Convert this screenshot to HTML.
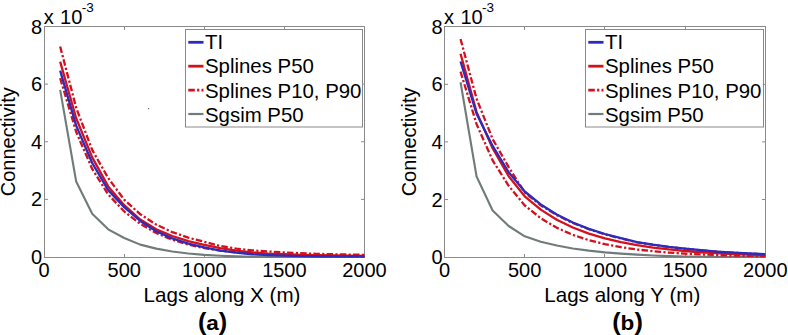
<!DOCTYPE html>
<html><head><meta charset="utf-8"><style>
html,body{margin:0;padding:0;background:#fff;width:788px;height:335px;overflow:hidden}
svg{display:block}
text{font-family:"Liberation Sans", sans-serif;fill:#000}
</style></head><body>
<svg width="788" height="335" viewBox="0 0 788 335">
<rect width="788" height="335" fill="#fff"/>
<rect x="44.5" y="26.5" width="320.00" height="231.00" fill="none" stroke="#8a8a8a" stroke-width="1"/>
<line x1="124.50" y1="257.5" x2="124.50" y2="254.0" stroke="#8a8a8a" stroke-width="1"/>
<line x1="124.50" y1="26.5" x2="124.50" y2="30.0" stroke="#8a8a8a" stroke-width="1"/>
<line x1="204.50" y1="257.5" x2="204.50" y2="254.0" stroke="#8a8a8a" stroke-width="1"/>
<line x1="204.50" y1="26.5" x2="204.50" y2="30.0" stroke="#8a8a8a" stroke-width="1"/>
<line x1="284.50" y1="257.5" x2="284.50" y2="254.0" stroke="#8a8a8a" stroke-width="1"/>
<line x1="284.50" y1="26.5" x2="284.50" y2="30.0" stroke="#8a8a8a" stroke-width="1"/>
<line x1="44.5" y1="199.38" x2="48.0" y2="199.38" stroke="#8a8a8a" stroke-width="1"/>
<line x1="364.5" y1="199.38" x2="361.0" y2="199.38" stroke="#8a8a8a" stroke-width="1"/>
<line x1="44.5" y1="141.75" x2="48.0" y2="141.75" stroke="#8a8a8a" stroke-width="1"/>
<line x1="364.5" y1="141.75" x2="361.0" y2="141.75" stroke="#8a8a8a" stroke-width="1"/>
<line x1="44.5" y1="84.12" x2="48.0" y2="84.12" stroke="#8a8a8a" stroke-width="1"/>
<line x1="364.5" y1="84.12" x2="361.0" y2="84.12" stroke="#8a8a8a" stroke-width="1"/>
<polyline points="60.16,89.89 76.18,181.51 92.19,213.78 108.21,229.34 124.22,237.98 140.24,244.61 156.25,248.64 172.27,251.53 188.29,253.54 204.30,254.84 220.32,255.70 236.33,256.37 252.35,256.77 268.36,256.97 284.38,256.97 300.39,256.97 316.41,256.97 332.42,256.97 348.44,256.97 364.45,256.97" fill="none" stroke="#717b7a" stroke-width="2.1" stroke-linejoin="round"/>
<polyline points="60.16,61.62 76.18,118.21 92.19,157.35 108.21,186.41 124.22,205.14 140.24,219.54 156.25,229.34 172.27,235.97 188.29,241.15 204.30,244.90 220.32,248.07 236.33,250.52 252.35,252.39 268.36,253.54 284.38,254.26 300.39,254.84 316.41,255.21 332.42,255.47 348.44,255.65 364.45,255.79" fill="none" stroke="#d2101e" stroke-width="2.3" stroke-linejoin="round"/>
<polyline points="60.16,78.11 76.18,131.90 92.19,168.86 108.21,194.50 124.22,211.48 140.24,223.87 156.25,233.09 172.27,239.71 188.29,244.61 204.30,248.07 220.32,250.62 236.33,252.34 252.35,253.60 268.36,254.51 284.38,255.18 300.39,255.66 316.41,256.02 332.42,256.28 348.44,256.47 364.45,256.61" fill="none" stroke="#d2101e" stroke-width="2.3" stroke-dasharray="6.5 2.3 2.2 2.2"/>
<polyline points="60.16,46.55 76.18,107.77 92.19,149.94 108.21,178.05 124.22,199.71 140.24,214.22 156.25,224.60 172.27,232.13 188.29,237.66 204.30,241.79 220.32,246.05 236.33,248.64 252.35,250.37 268.36,251.53 284.38,252.39 300.39,253.25 316.41,253.83 332.42,254.26 348.44,254.55 364.45,254.84" fill="none" stroke="#d2101e" stroke-width="2.3" stroke-dasharray="6.5 2.3 2.2 2.2"/>
<polyline points="60.16,70.61 76.18,125.65 92.19,163.00 108.21,190.16 124.22,207.15 140.24,220.98 156.25,231.21 172.27,238.42 188.29,243.60 204.30,247.35 220.32,250.66 236.33,252.68 252.35,254.26 268.36,255.13 284.38,255.70 300.39,256.08 316.41,256.25 332.42,256.37 348.44,256.42 364.45,256.42" fill="none" stroke="#2b2bbd" stroke-width="2.3" stroke-linejoin="round"/>
<rect x="185.50" y="29.50" width="177.00" height="97.50" fill="#fff" stroke="#8a8a8a" stroke-width="1"/>
<line x1="188.30" y1="42.30" x2="203.50" y2="42.30" stroke="#2b2bbd" stroke-width="2.8"/>
<text x="205.00" y="49.10" font-size="20.4">TI</text>
<line x1="188.30" y1="66.20" x2="203.50" y2="66.20" stroke="#d2101e" stroke-width="2.8"/>
<text x="205.00" y="73.30" font-size="20.4">Splines P50</text>
<line x1="188.30" y1="90.10" x2="203.50" y2="90.10" stroke="#d2101e" stroke-width="2.8" stroke-dasharray="6.5 2.3 2.2 2.2"/>
<text x="205.00" y="97.50" font-size="20.4">Splines P10, P90</text>
<line x1="188.30" y1="114.00" x2="203.50" y2="114.00" stroke="#717b7a" stroke-width="2.2"/>
<text x="205.00" y="121.70" font-size="20.4">Sgsim P50</text>
<text x="44.15" y="276.60" font-size="20" text-anchor="middle">0</text>
<text x="124.22" y="276.60" font-size="20" text-anchor="middle">500</text>
<text x="204.30" y="276.60" font-size="20" text-anchor="middle">1000</text>
<text x="284.38" y="276.60" font-size="20" text-anchor="middle">1500</text>
<text x="364.45" y="276.60" font-size="20" text-anchor="middle">2000</text>
<text x="42.15" y="264.10" font-size="20" text-anchor="end">0</text>
<text x="42.15" y="206.47" font-size="20" text-anchor="end">2</text>
<text x="42.15" y="148.85" font-size="20" text-anchor="end">4</text>
<text x="42.15" y="91.22" font-size="20" text-anchor="end">6</text>
<text x="42.15" y="33.60" font-size="20" text-anchor="end">8</text>
<text x="43.65" y="23.90" font-size="20">x <tspan dx="0.9">10</tspan></text>
<text x="81.65" y="11.70" font-size="13.5">-3</text>
<text transform="translate(15.15,141.75) rotate(-90)" font-size="20" text-anchor="middle">Connectivity</text>
<text x="222.00" y="301.5" font-size="20.6" text-anchor="middle">Lags along X (m)</text>
<text transform="translate(212.60,329.6) scale(1.1,1)" font-size="20.5" font-weight="bold" text-anchor="middle"><tspan font-size="23">(</tspan>a<tspan font-size="23">)</tspan></text>
<rect x="148" y="108" width="1.2" height="1.2" fill="#777"/>
<rect x="444.5" y="26.5" width="321.00" height="231.00" fill="none" stroke="#8a8a8a" stroke-width="1"/>
<line x1="524.50" y1="257.5" x2="524.50" y2="254.0" stroke="#8a8a8a" stroke-width="1"/>
<line x1="524.50" y1="26.5" x2="524.50" y2="30.0" stroke="#8a8a8a" stroke-width="1"/>
<line x1="604.50" y1="257.5" x2="604.50" y2="254.0" stroke="#8a8a8a" stroke-width="1"/>
<line x1="604.50" y1="26.5" x2="604.50" y2="30.0" stroke="#8a8a8a" stroke-width="1"/>
<line x1="685.50" y1="257.5" x2="685.50" y2="254.0" stroke="#8a8a8a" stroke-width="1"/>
<line x1="685.50" y1="26.5" x2="685.50" y2="30.0" stroke="#8a8a8a" stroke-width="1"/>
<line x1="444.5" y1="199.50" x2="448.0" y2="199.50" stroke="#8a8a8a" stroke-width="1"/>
<line x1="765.5" y1="199.50" x2="762.0" y2="199.50" stroke="#8a8a8a" stroke-width="1"/>
<line x1="444.5" y1="141.90" x2="448.0" y2="141.90" stroke="#8a8a8a" stroke-width="1"/>
<line x1="765.5" y1="141.90" x2="762.0" y2="141.90" stroke="#8a8a8a" stroke-width="1"/>
<line x1="444.5" y1="84.30" x2="448.0" y2="84.30" stroke="#8a8a8a" stroke-width="1"/>
<line x1="765.5" y1="84.30" x2="762.0" y2="84.30" stroke="#8a8a8a" stroke-width="1"/>
<polyline points="460.54,82.28 476.58,176.46 492.62,210.44 508.66,226.00 524.70,236.36 540.74,241.84 556.78,245.58 572.82,248.46 588.86,250.62 604.90,252.35 620.94,253.64 636.98,254.65 653.02,255.52 669.06,256.09 685.10,256.52 701.14,256.81 717.18,256.93 733.22,257.01 749.26,257.05 765.30,257.07" fill="none" stroke="#717b7a" stroke-width="2.1" stroke-linejoin="round"/>
<polyline points="460.54,53.72 476.58,112.10 492.62,148.24 508.66,176.16 524.70,196.27 540.74,209.62 556.78,219.72 572.82,227.50 588.86,233.58 604.90,238.37 620.94,242.16 636.98,245.17 653.02,247.57 669.06,249.48 685.10,251.01 701.14,252.23 717.18,253.21 733.22,253.99 749.26,254.61 765.30,255.11" fill="none" stroke="#d2101e" stroke-width="2.3" stroke-linejoin="round"/>
<polyline points="460.54,71.61 476.58,124.17 492.62,160.37 508.66,185.82 524.70,205.36 540.74,218.27 556.78,227.77 572.82,234.84 588.86,240.15 604.90,244.15 620.94,247.19 636.98,249.50 653.02,251.27 669.06,252.62 685.10,253.66 701.14,254.45 717.18,255.06 733.22,255.53 749.26,255.90 765.30,256.17" fill="none" stroke="#d2101e" stroke-width="2.3" stroke-dasharray="6.5 2.3 2.2 2.2"/>
<polyline points="460.54,39.02 476.58,98.76 492.62,139.07 508.66,167.13 524.70,192.47 540.74,205.21 556.78,215.12 572.82,222.97 588.86,229.26 604.90,234.35 620.94,238.49 636.98,242.35 653.02,244.90 669.06,247.03 685.10,248.75 701.14,250.29 717.18,251.71 733.22,252.70 749.26,253.55 765.30,254.26" fill="none" stroke="#d2101e" stroke-width="2.3" stroke-dasharray="6.5 2.3 2.2 2.2"/>
<polyline points="460.54,61.50 476.58,113.75 492.62,145.93 508.66,172.27 524.70,191.49 540.74,204.42 556.78,214.48 572.82,222.45 588.86,228.84 604.90,234.00 620.94,238.20 636.98,242.12 653.02,244.72 669.06,246.88 685.10,248.60 701.14,250.19 717.18,251.63 733.22,252.64 749.26,253.50 765.30,254.22" fill="none" stroke="#2b2bbd" stroke-width="2.3" stroke-linejoin="round"/>
<rect x="585.50" y="29.50" width="178.00" height="97.50" fill="#fff" stroke="#8a8a8a" stroke-width="1"/>
<line x1="588.30" y1="42.30" x2="603.50" y2="42.30" stroke="#2b2bbd" stroke-width="2.8"/>
<text x="605.00" y="49.10" font-size="20.4">TI</text>
<line x1="588.30" y1="66.20" x2="603.50" y2="66.20" stroke="#d2101e" stroke-width="2.8"/>
<text x="605.00" y="73.30" font-size="20.4">Splines P50</text>
<line x1="588.30" y1="90.10" x2="603.50" y2="90.10" stroke="#d2101e" stroke-width="2.8" stroke-dasharray="6.5 2.3 2.2 2.2"/>
<text x="605.00" y="97.50" font-size="20.4">Splines P10, P90</text>
<line x1="588.30" y1="114.00" x2="603.50" y2="114.00" stroke="#717b7a" stroke-width="2.2"/>
<text x="605.00" y="121.70" font-size="20.4">Sgsim P50</text>
<text x="444.50" y="276.70" font-size="20" text-anchor="middle">0</text>
<text x="524.70" y="276.70" font-size="20" text-anchor="middle">500</text>
<text x="604.90" y="276.70" font-size="20" text-anchor="middle">1000</text>
<text x="685.10" y="276.70" font-size="20" text-anchor="middle">1500</text>
<text x="765.30" y="276.70" font-size="20" text-anchor="middle">2000</text>
<text x="442.50" y="264.20" font-size="20" text-anchor="end">0</text>
<text x="442.50" y="206.60" font-size="20" text-anchor="end">2</text>
<text x="442.50" y="149.00" font-size="20" text-anchor="end">4</text>
<text x="442.50" y="91.40" font-size="20" text-anchor="end">6</text>
<text x="442.50" y="33.80" font-size="20" text-anchor="end">8</text>
<text x="444.00" y="24.10" font-size="20">x <tspan dx="0.9">10</tspan></text>
<text x="482.00" y="11.90" font-size="13.5">-3</text>
<text transform="translate(415.50,141.90) rotate(-90)" font-size="20" text-anchor="middle">Connectivity</text>
<text x="622.30" y="301.5" font-size="20.6" text-anchor="middle">Lags along Y (m)</text>
<text transform="translate(627.50,329.6) scale(1.1,1)" font-size="20.5" font-weight="bold" text-anchor="middle"><tspan font-size="23">(</tspan>b<tspan font-size="23">)</tspan></text>
</svg>
</body></html>
